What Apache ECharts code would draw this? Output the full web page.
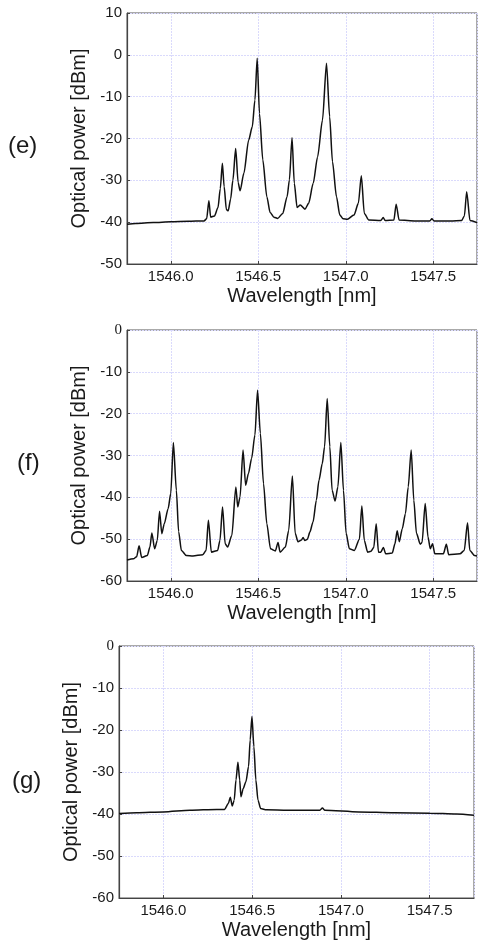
<!DOCTYPE html>
<html><head><meta charset="utf-8">
<script src="https://cdn.jsdelivr.net/npm/echarts@6/dist/echarts.min.js"></script>
<style>html,body{margin:0;padding:0;background:#fff}#c{width:478px;height:944px}</style>
</head><body><div id="c"></div>
<script>
// Panel (e)
const wlE = [1545.75,1545.80,1545.90,1546.00,1546.10,1546.19,1546.205,1546.218,1546.228,1546.25,1546.27,1546.283,1546.295,1546.305,1546.318,1546.328,1546.342,1546.355,1546.371,1546.385,1546.396,1546.418,1546.445,1546.466,1546.481,1546.494,1546.507,1546.526,1546.549,1546.568,1546.59,1546.611,1546.640,1546.665,1546.678,1546.693,1546.706,1546.722,1546.740,1546.767,1546.788,1546.814,1546.839,1546.867,1546.890,1546.908,1546.924,1546.947,1546.966,1546.985,1547.009,1547.047,1547.072,1547.089,1547.106,1547.132,1547.20,1547.214,1547.225,1547.275,1547.288,1547.305,1547.40,1547.48,1547.492,1547.505,1547.60,1547.662,1547.678,1547.691,1547.710,1547.75];
const pE = [-40.5,-40.3,-40.1,-39.9,-39.8,-39.7,-39.2,-34.9,-38.8,-38.5,-36.5,-32,-25.9,-31.5,-37.0,-37.3,-34.5,-30,-22.4,-30.5,-32.5,-28.3,-20.4,-17.2,-10.8,-0.8,-14.0,-25.1,-33.9,-37.7,-38.8,-39.1,-37.9,-33.9,-29.9,-19.8,-30.7,-36.5,-35.9,-36.9,-35.5,-30.7,-24.4,-15.6,-2.0,-14.8,-25.5,-33.9,-38.3,-39.2,-39.3,-38.3,-35.5,-28.9,-37.9,-39.5,-39.6,-38.9,-39.6,-39.5,-35.7,-39.5,-39.7,-39.7,-39.2,-39.7,-39.7,-39.6,-38.5,-32.7,-39.6,-40.1];
// Panel (f)
const wlF = [1545.75,1545.787,1545.805,1545.819,1545.834,1545.866,1545.881,1545.892,1545.908,1545.923,1545.936,1545.949,1545.963,1545.985,1546.000,1546.015,1546.032,1546.045,1546.061,1546.089,1546.127,1546.183,1546.202,1546.215,1546.232,1546.268,1546.281,1546.296,1546.311,1546.325,1546.349,1546.372,1546.383,1546.396,1546.413,1546.428,1546.444,1546.462,1546.481,1546.496,1546.512,1546.530,1546.549,1546.570,1546.598,1546.613,1546.625,1546.655,1546.674,1546.695,1546.711,1546.727,1546.747,1546.756,1546.766,1546.781,1546.795,1546.813,1546.832,1546.847,1546.866,1546.879,1546.894,1546.909,1546.922,1546.939,1546.955,1546.972,1546.987,1547.002,1547.021,1547.049,1547.078,1547.092,1547.106,1547.125,1547.144,1547.160,1547.174,1547.187,1547.200,1547.215,1547.228,1547.266,1547.281,1547.294,1547.306,1547.323,1547.341,1547.357,1547.374,1547.389,1547.404,1547.426,1547.436,1547.454,1547.470,1547.483,1547.496,1547.509,1547.558,1547.575,1547.588,1547.653,1547.677,1547.696,1547.709,1547.736,1547.75];
const pF = [-55.0,-54.7,-54.2,-51.6,-54.4,-53.9,-51.9,-48.5,-52.3,-50.3,-43.3,-48.7,-46.3,-42.7,-39.1,-26.9,-38.3,-48.2,-52.7,-53.9,-54.0,-53.7,-52.7,-45.5,-53.1,-52.7,-50.3,-42.3,-51.1,-51.9,-49.1,-37.5,-42.3,-39.9,-28.7,-37.1,-34.3,-30.7,-25.1,-14.4,-24.7,-36.7,-46.3,-52.3,-52.8,-50.8,-53.1,-51.9,-47.9,-34.9,-48.6,-50.6,-50.2,-49.6,-50.3,-50.0,-48.3,-45.9,-40.7,-35.9,-31.9,-27.9,-16.4,-27.9,-38.3,-40.9,-37.5,-26.9,-38.3,-48.6,-52.3,-52.7,-50.0,-42.1,-50.3,-53.1,-52.9,-52.0,-46.3,-53.1,-53.1,-52.0,-53.5,-53.3,-51.1,-48.0,-50.6,-47.5,-43.9,-37.5,-28.7,-40.7,-48.6,-51.2,-50.8,-41.5,-49.5,-52.3,-51.1,-53.5,-53.5,-51.2,-53.7,-53.5,-52.7,-46.1,-52.7,-53.9,-54.0];
// Panel (g)
const wlG = [1545.75,1545.85,1546.00,1546.15,1546.30,1546.345,1546.366,1546.377,1546.388,1546.399,1546.409,1546.420,1546.430,1546.437,1546.450,1546.465,1546.480,1546.489,1546.499,1546.510,1546.521,1546.533,1546.548,1546.581,1546.70,1546.88,1546.896,1546.91,1547.10,1547.30,1547.50,1547.65,1547.75];
const pG = [-39.9,-39.7,-39.5,-39.1,-38.9,-38.9,-37.5,-36.0,-38.1,-36.7,-31.9,-27.7,-31.9,-35.9,-33.9,-32.3,-28.7,-22.4,-16.8,-24.0,-31.9,-36.7,-38.7,-39.0,-39.1,-39.1,-38.6,-39.1,-39.5,-39.7,-39.8,-40.0,-40.3];

const panelLabels = ['(e)','(f)','(g)'];
const yRanges = [[-50,10],[-60,0],[-60,0]];
const xRange = [1545.75,1547.75];
const xTitle = 'Wavelength [nm]';
const yTitle = 'Optical power [dBm]';

const grids = [
  {left:127, top:13, width:350, height:251},
  {left:127, top:330, width:350, height:251},
  {left:119, top:646, width:355, height:252}
];
const labelPos = [{left:8, top:134},{left:17, top:451},{left:12, top:769}];

const series = [[wlE,pE],[wlF,pF],[wlG,pG]];
const txt = '#1a1a1a';
const font = 'Liberation Sans, Arial, Helvetica, sans-serif';
const gridCol = '#dadafc';

const chart = echarts.init(document.getElementById('c'), null, {renderer:'canvas'});
const option = {
  backgroundColor:'#fff',
  animation:false,
  grid: grids.map(g => Object.assign({show:true, borderColor:'#555', borderWidth:1, containLabel:false, outerBoundsMode:'none'}, g)),
  xAxis: grids.map((g,i) => ({
    type:'value', gridIndex:i, min:xRange[0], max:xRange[1], splitNumber:4,
    name:xTitle, nameLocation:'middle', nameGap:22, nameMoveOverlap:false,
    nameTextStyle:{fontSize:20, color:txt, fontFamily:font},
    axisLine:{show:true, onZero:false, lineStyle:{color:'#444', width:1.2}},
    axisTick:{show:true, inside:true, length:3, lineStyle:{color:'#444'}},
    splitLine:{show:true, lineStyle:{color:gridCol, type:[2,1], width:1}},
    axisLabel:{showMinLabel:false, showMaxLabel:false, fontSize:15, color:txt, fontFamily:font, margin:5,
      formatter: v => (Math.abs(v*2 - Math.round(v*2)) < 1e-6 ? v.toFixed(1) : '')}
  })),
  yAxis: grids.map((g,i) => ({
    type:'value', gridIndex:i, min:yRanges[i][0], max:yRanges[i][1], interval:10,
    name:yTitle, nameLocation:'middle', nameGap:38, nameMoveOverlap:false,
    nameTextStyle:{fontSize:20, color:txt, fontFamily:font},
    axisLine:{show:true, onZero:false, lineStyle:{color:'#444', width:1.2}},
    axisTick:{show:true, inside:true, length:3, lineStyle:{color:'#444'}},
    splitLine:{show:true, lineStyle:{color:gridCol, type:[2,1], width:1}},
    axisLabel:{fontSize:15, color:txt, fontFamily:font, margin:5,
      formatter: v => (i>0 && v===0) ? '{s|0}' : String(v),
      rich:{s:{fontFamily:'Liberation Serif, serif', fontSize:15, color:txt}}}
  })),
  series: series.map((s,i) => ({
    type:'line', xAxisIndex:i, yAxisIndex:i, showSymbol:false, symbol:'none',
    smooth:0.25, smoothMonotone:'x',
    data: s[0].map((x,k) => [x, s[1][k]]),
    lineStyle:{color:'#111', width:1.5}
  })),
  graphic: panelLabels.map((t,i) => ({
    type:'text', left:labelPos[i].left, top:labelPos[i].top,
    style:{text:t, fontSize:24, fill:txt, fontFamily:font}
  }))
};
chart.setOption(option);
</script>
</body></html>
